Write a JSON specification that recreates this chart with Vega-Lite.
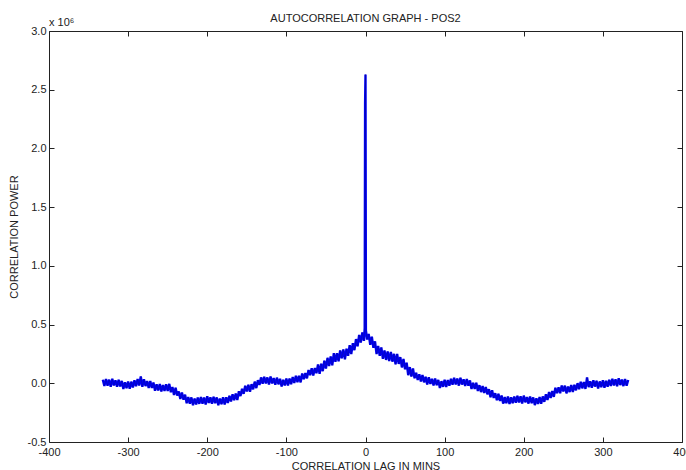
{
  "$schema": "https://vega.github.io/schema/vega-lite/v6.json",
  "autosize": {"type": "none"},
  "width": 633,
  "height": 411,
  "padding": {"left": 49, "top": 31, "right": 4, "bottom": 28},
  "background": "white",
  "title": {"text": "AUTOCORRELATION GRAPH - POS2", "font": "Liberation Sans", "fontSize": 11, "fontWeight": "normal", "color": "#222", "offset": 6, "dy": 13},
  "config": {
    "view": {"stroke": null},
    "axis": {"grid": false, "domainColor": "#222", "tickColor": "#222", "labelColor": "#222", "titleColor": "#222", "labelFont": "Liberation Sans", "titleFont": "Liberation Sans", "labelFontSize": 11, "titleFontSize": 11, "titleFontWeight": "normal", "tickSize": -5, "labelFlush": false, "labelOverlap": false, "labelBound": false}
  },
  "datasets": {
    "acf": [
{"lag":-332,"p":0.030},{"lag":-330,"p":-0.023},{"lag":-328,"p":0.037},{"lag":-326,"p":-0.020},{"lag":-324,"p":0.031},{"lag":-322,"p":-0.029},{"lag":-320,"p":0.038},{"lag":-318,"p":-0.019},{"lag":-316,"p":0.026},{"lag":-314,"p":-0.030},
{"lag":-312,"p":0.030},{"lag":-310,"p":-0.027},{"lag":-308,"p":0.020},{"lag":-306,"p":-0.048},{"lag":-304,"p":0.008},{"lag":-302,"p":-0.042},{"lag":-300,"p":0.015},{"lag":-298,"p":-0.046},{"lag":-296,"p":0.014},{"lag":-294,"p":-0.035},
{"lag":-292,"p":0.025},{"lag":-290,"p":-0.025},{"lag":-288,"p":0.036},{"lag":-286,"p":-0.019},{"lag":-284,"p":0.058},{"lag":-282,"p":-0.030},{"lag":-280,"p":0.035},{"lag":-278,"p":-0.024},{"lag":-276,"p":0.019},{"lag":-274,"p":-0.039},
{"lag":-272,"p":0.019},{"lag":-270,"p":-0.040},{"lag":-268,"p":0.006},{"lag":-266,"p":-0.064},{"lag":-264,"p":-0.009},{"lag":-262,"p":-0.062},{"lag":-260,"p":-0.006},{"lag":-258,"p":-0.070},{"lag":-256,"p":-0.014},{"lag":-254,"p":-0.066},
{"lag":-252,"p":-0.009},{"lag":-250,"p":-0.066},{"lag":-248,"p":-0.005},{"lag":-246,"p":-0.076},{"lag":-244,"p":-0.032},{"lag":-242,"p":-0.099},{"lag":-240,"p":-0.038},{"lag":-238,"p":-0.105},{"lag":-236,"p":-0.069},{"lag":-234,"p":-0.134},
{"lag":-232,"p":-0.079},{"lag":-230,"p":-0.140},{"lag":-228,"p":-0.097},{"lag":-226,"p":-0.170},{"lag":-224,"p":-0.118},{"lag":-222,"p":-0.173},{"lag":-220,"p":-0.120},{"lag":-218,"p":-0.187},{"lag":-216,"p":-0.130},{"lag":-214,"p":-0.181},
{"lag":-212,"p":-0.122},{"lag":-210,"p":-0.175},{"lag":-208,"p":-0.116},{"lag":-206,"p":-0.173},{"lag":-204,"p":-0.121},{"lag":-202,"p":-0.180},{"lag":-200,"p":-0.111},{"lag":-198,"p":-0.167},{"lag":-196,"p":-0.120},{"lag":-194,"p":-0.174},
{"lag":-192,"p":-0.114},{"lag":-190,"p":-0.169},{"lag":-188,"p":-0.120},{"lag":-186,"p":-0.187},{"lag":-184,"p":-0.130},{"lag":-182,"p":-0.179},{"lag":-180,"p":-0.120},{"lag":-178,"p":-0.180},{"lag":-176,"p":-0.119},{"lag":-174,"p":-0.167},
{"lag":-172,"p":-0.106},{"lag":-170,"p":-0.155},{"lag":-168,"p":-0.093},{"lag":-166,"p":-0.145},{"lag":-164,"p":-0.087},{"lag":-162,"p":-0.142},{"lag":-160,"p":-0.068},{"lag":-158,"p":-0.109},{"lag":-156,"p":-0.047},{"lag":-154,"p":-0.090},
{"lag":-152,"p":-0.021},{"lag":-150,"p":-0.069},{"lag":-148,"p":-0.012},{"lag":-146,"p":-0.073},{"lag":-144,"p":-0.008},{"lag":-142,"p":-0.051},{"lag":-140,"p":0.014},{"lag":-138,"p":-0.041},{"lag":-136,"p":0.026},{"lag":-134,"p":-0.014},
{"lag":-132,"p":0.050},{"lag":-130,"p":-0.003},{"lag":-128,"p":0.056},{"lag":-126,"p":-0.001},{"lag":-124,"p":0.050},{"lag":-122,"p":-0.010},{"lag":-120,"p":0.057},{"lag":-118,"p":-0.001},{"lag":-116,"p":0.044},{"lag":-114,"p":-0.012},
{"lag":-112,"p":0.048},{"lag":-110,"p":-0.009},{"lag":-108,"p":0.038},{"lag":-106,"p":-0.028},{"lag":-104,"p":0.030},{"lag":-102,"p":-0.018},{"lag":-100,"p":0.041},{"lag":-98,"p":-0.019},{"lag":-96,"p":0.041},{"lag":-94,"p":-0.008},
{"lag":-92,"p":0.053},{"lag":-90,"p":0.002},{"lag":-88,"p":0.064},{"lag":-86,"p":0.010},{"lag":-84,"p":0.063},{"lag":-82,"p":0.008},{"lag":-80,"p":0.083},{"lag":-78,"p":0.034},{"lag":-76,"p":0.087},{"lag":-74,"p":0.042},
{"lag":-72,"p":0.113},{"lag":-70,"p":0.069},{"lag":-68,"p":0.128},{"lag":-66,"p":0.066},{"lag":-64,"p":0.130},{"lag":-62,"p":0.086},{"lag":-60,"p":0.160},{"lag":-58,"p":0.080},{"lag":-56,"p":0.167},{"lag":-54,"p":0.103},
{"lag":-52,"p":0.193},{"lag":-50,"p":0.126},{"lag":-48,"p":0.217},{"lag":-46,"p":0.147},{"lag":-44,"p":0.229},{"lag":-42,"p":0.153},{"lag":-40,"p":0.256},{"lag":-38,"p":0.184},{"lag":-36,"p":0.257},{"lag":-34,"p":0.188},
{"lag":-32,"p":0.280},{"lag":-30,"p":0.212},{"lag":-28,"p":0.289},{"lag":-26,"p":0.204},{"lag":-24,"p":0.294},{"lag":-22,"p":0.234},{"lag":-20,"p":0.325},{"lag":-18,"p":0.249},{"lag":-16,"p":0.341},{"lag":-14,"p":0.282},
{"lag":-12,"p":0.376},{"lag":-10,"p":0.315},{"lag":-8,"p":0.412},{"lag":-6,"p":0.347},{"lag":-4,"p":0.433},{"lag":-2,"p":0.361},{"lag":-1,"p":0.470},{"lag":-0.5,"p":2.38},{"lag":0,"p":2.63},{"lag":0.5,"p":0.450},
{"lag":2,"p":0.373},{"lag":4,"p":0.421},{"lag":6,"p":0.328},{"lag":8,"p":0.396},{"lag":10,"p":0.302},{"lag":12,"p":0.357},{"lag":14,"p":0.249},{"lag":16,"p":0.317},{"lag":18,"p":0.234},{"lag":20,"p":0.305},
{"lag":22,"p":0.208},{"lag":24,"p":0.279},{"lag":26,"p":0.199},{"lag":28,"p":0.272},{"lag":30,"p":0.189},{"lag":32,"p":0.267},{"lag":34,"p":0.184},{"lag":36,"p":0.251},{"lag":38,"p":0.161},{"lag":40,"p":0.250},
{"lag":42,"p":0.165},{"lag":44,"p":0.223},{"lag":46,"p":0.135},{"lag":48,"p":0.208},{"lag":50,"p":0.119},{"lag":52,"p":0.175},{"lag":54,"p":0.069},{"lag":56,"p":0.138},{"lag":58,"p":0.057},{"lag":60,"p":0.126},
{"lag":62,"p":0.043},{"lag":64,"p":0.090},{"lag":66,"p":0.028},{"lag":68,"p":0.076},{"lag":70,"p":0.015},{"lag":72,"p":0.070},{"lag":74,"p":0.008},{"lag":76,"p":0.055},{"lag":78,"p":-0.011},{"lag":80,"p":0.052},
{"lag":82,"p":-0.006},{"lag":84,"p":0.038},{"lag":86,"p":-0.018},{"lag":88,"p":0.040},{"lag":90,"p":-0.017},{"lag":92,"p":0.029},{"lag":94,"p":-0.040},{"lag":96,"p":0.018},{"lag":98,"p":-0.030},{"lag":100,"p":0.029},
{"lag":102,"p":-0.032},{"lag":104,"p":0.027},{"lag":106,"p":-0.021},{"lag":108,"p":0.039},{"lag":110,"p":-0.012},{"lag":112,"p":0.047},{"lag":114,"p":-0.010},{"lag":116,"p":0.041},{"lag":118,"p":-0.020},{"lag":120,"p":0.047},
{"lag":122,"p":-0.011},{"lag":124,"p":0.034},{"lag":126,"p":-0.022},{"lag":128,"p":0.037},{"lag":130,"p":-0.020},{"lag":132,"p":0.024},{"lag":134,"p":-0.048},{"lag":136,"p":0.005},{"lag":138,"p":-0.049},{"lag":140,"p":0.005},
{"lag":142,"p":-0.066},{"lag":144,"p":-0.016},{"lag":146,"p":-0.075},{"lag":148,"p":-0.024},{"lag":150,"p":-0.083},{"lag":152,"p":-0.031},{"lag":154,"p":-0.094},{"lag":156,"p":-0.050},{"lag":158,"p":-0.119},{"lag":160,"p":-0.059},
{"lag":162,"p":-0.125},{"lag":164,"p":-0.084},{"lag":166,"p":-0.144},{"lag":168,"p":-0.089},{"lag":170,"p":-0.150},{"lag":172,"p":-0.104},{"lag":174,"p":-0.173},{"lag":176,"p":-0.118},{"lag":178,"p":-0.170},{"lag":180,"p":-0.113},
{"lag":182,"p":-0.177},{"lag":184,"p":-0.120},{"lag":186,"p":-0.170},{"lag":188,"p":-0.112},{"lag":190,"p":-0.165},{"lag":192,"p":-0.106},{"lag":194,"p":-0.163},{"lag":196,"p":-0.111},{"lag":198,"p":-0.172},{"lag":200,"p":-0.105},
{"lag":202,"p":-0.162},{"lag":204,"p":-0.117},{"lag":206,"p":-0.173},{"lag":208,"p":-0.113},{"lag":210,"p":-0.170},{"lag":212,"p":-0.120},{"lag":214,"p":-0.186},{"lag":216,"p":-0.128},{"lag":218,"p":-0.176},{"lag":220,"p":-0.116},
{"lag":222,"p":-0.175},{"lag":224,"p":-0.112},{"lag":226,"p":-0.158},{"lag":228,"p":-0.094},{"lag":230,"p":-0.142},{"lag":232,"p":-0.075},{"lag":234,"p":-0.125},{"lag":236,"p":-0.066},{"lag":238,"p":-0.116},{"lag":240,"p":-0.038},
{"lag":242,"p":-0.085},{"lag":244,"p":-0.034},{"lag":246,"p":-0.084},{"lag":248,"p":-0.019},{"lag":250,"p":-0.070},{"lag":252,"p":-0.020},{"lag":254,"p":-0.086},{"lag":256,"p":-0.027},{"lag":258,"p":-0.075},{"lag":260,"p":-0.015},
{"lag":262,"p":-0.074},{"lag":264,"p":-0.013},{"lag":266,"p":-0.060},{"lag":268,"p":0.001},{"lag":270,"p":-0.050},{"lag":272,"p":0.012},{"lag":274,"p":-0.043},{"lag":276,"p":0.011},{"lag":278,"p":-0.048},{"lag":280,"p":0.050},
{"lag":282,"p":-0.033},{"lag":284,"p":0.016},{"lag":286,"p":-0.037},{"lag":288,"p":0.025},{"lag":290,"p":-0.028},{"lag":292,"p":0.022},{"lag":294,"p":-0.044},{"lag":296,"p":0.016},{"lag":298,"p":-0.033},{"lag":300,"p":0.025},
{"lag":302,"p":-0.037},{"lag":304,"p":0.021},{"lag":306,"p":-0.029},{"lag":308,"p":0.030},{"lag":310,"p":-0.022},{"lag":312,"p":0.038},{"lag":314,"p":-0.018},{"lag":316,"p":0.034},{"lag":318,"p":-0.026},{"lag":320,"p":0.042},
{"lag":322,"p":-0.015},{"lag":324,"p":0.031},{"lag":326,"p":-0.024},{"lag":328,"p":0.036},{"lag":330,"p":-0.020},{"lag":332,"p":0.028}
    ]
  },
  "layer": [
    {
      "data": {"name": "acf"},
      "mark": {"type": "line", "color": "#0000ff", "strokeWidth": 2.4, "strokeJoin": "miter", "strokeMiterLimit": 3, "clip": true},
      "encoding": {
        "x": {"field": "lag", "type": "quantitative", "scale": {"domain": [-400, 400], "nice": false, "zero": false},
              "axis": {"orient": "bottom", "values": [-400, -300, -200, -100, 0, 100, 200, 300, 400], "labelPadding": 9, "title": "CORRELATION LAG IN MINS", "titlePadding": 3,
                       "labelExpr": "replace(datum.label, '\u2212', '-')"}},
        "y": {"field": "p", "type": "quantitative", "scale": {"domain": [-0.5, 3], "nice": false, "zero": false},
              "axis": {"orient": "left", "values": [-0.5, 0, 0.5, 1, 1.5, 2, 2.5, 3], "labelPadding": 8, "title": "CORRELATION POWER", "titlePadding": 8,
                       "labelExpr": "replace(datum.label, '\u2212', '-')"}}
      }
    },
    {
      "data": {"name": "acf"},
      "mark": {"type": "line", "color": "#0a0a6e", "strokeWidth": 0.6, "opacity": 0.6, "clip": true},
      "encoding": {
        "x": {"field": "lag", "type": "quantitative", "axis": null},
        "y": {"field": "p", "type": "quantitative", "axis": null}
      }
    },
    {
      "data": {"values": [{"lag": -400, "p": 3, "t": "x 10\u2076"}]},
      "mark": {"type": "text", "align": "left", "baseline": "alphabetic", "dy": -5, "font": "Liberation Sans", "fontSize": 11, "color": "#222"},
      "encoding": {
        "x": {"field": "lag", "type": "quantitative", "axis": {"orient": "top", "values": [-400, -300, -200, -100, 0, 100, 200, 300, 400], "labels": false, "title": null}},
        "y": {"field": "p", "type": "quantitative", "axis": {"orient": "right", "values": [-0.5, 0, 0.5, 1, 1.5, 2, 2.5, 3], "labels": false, "title": null}},
        "text": {"field": "t"}
      }
    }
  ],
  "resolve": {"axis": {"x": "independent", "y": "independent"}}
}
